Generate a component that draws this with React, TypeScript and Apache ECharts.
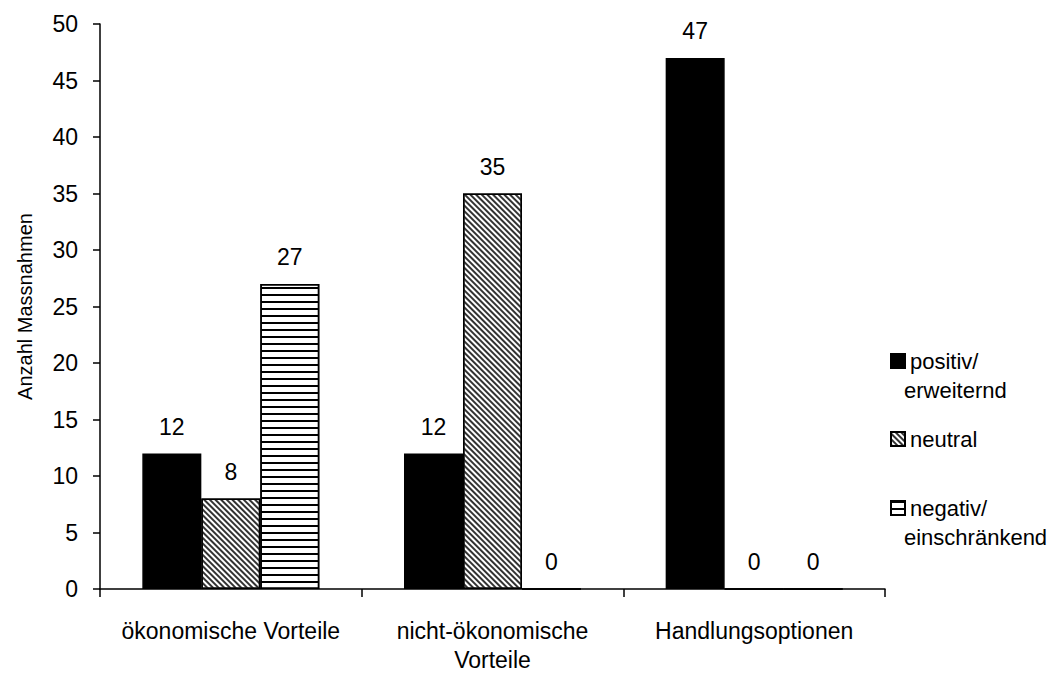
import React, { useEffect, useRef } from "react";
import * as echarts from "echarts";

const categories = ["ökonomische Vorteile", "nicht-ökonomische\nVorteile", "Handlungsoptionen"];
const seriesNames = ["positiv/\nerweiternd", "neutral", "negativ/\neinschränkend"];
const positivValues = [12, 12, 47];
const neutralValues = [8, 35, 0];
const negativValues = [27, 0, 0];
const yTicks = { min: 0, max: 50, interval: 5 };

const FONT = "'Liberation Sans', Arial, sans-serif";

export default function App() {
  const ref = useRef<HTMLDivElement>(null);
  useEffect(() => {
    if (!ref.current) return;
    const chart = echarts.init(ref.current, undefined, { renderer: "svg" });
    const labelCfg = {
      show: true,
      position: "top",
      distance: 15,
      fontSize: 23,
      fontFamily: FONT,
      color: "#000",
    };
    const baseItem = { borderColor: "#000", borderWidth: 1.5 };
    const legendBase = {
      orient: "vertical",
      left: 885,
      itemWidth: 14,
      itemHeight: 14,
      icon: "rect",
      formatter: (name: string) => name.split("\n")[0],
      textStyle: { fontSize: 22, fontFamily: FONT, color: "#000", lineHeight: 26 },
    };
    const secondLine = (text: string, y: number) => ({
      type: "text",
      x: 904,
      y,
      style: {
        text,
        fontSize: 22,
        fontFamily: FONT,
        fill: "#000",
        textAlign: "left",
        textVerticalAlign: "middle",
      },
    });
    chart.setOption({
      animation: false,
      backgroundColor: "#fff",
      textStyle: { fontFamily: FONT, color: "#000" },
      grid: { left: 100, right: 169, top: 24, bottom: 83, containLabel: false },
      legend: [
        { ...legendBase, data: [seriesNames[0]], top: 343 },
        { ...legendBase, data: [seriesNames[1]], top: 421 },
        { ...legendBase, data: [seriesNames[2]], top: 490 },
      ],
      graphic: [
        secondLine(seriesNames[0].split("\n")[1], 390),
        secondLine(seriesNames[2].split("\n")[1], 537),
      ],
      xAxis: {
        type: "category",
        data: categories,
        axisLine: { lineStyle: { color: "#000", width: 1.5 } },
        axisTick: { show: true, length: 8, interval: 0, lineStyle: { color: "#000", width: 1.5 } },
        axisLabel: { interval: 0, margin: 27, fontSize: 23, lineHeight: 29, color: "#000", fontFamily: FONT },
        splitLine: { show: false },
      },
      yAxis: {
        type: "value",
        min: yTicks.min,
        max: yTicks.max,
        interval: yTicks.interval,
        name: "Anzahl Massnahmen",
        nameLocation: "middle",
        nameGap: 65,
        nameTextStyle: { fontSize: 20, color: "#000", fontFamily: FONT },
        axisLine: { show: true, lineStyle: { color: "#000", width: 1.5 } },
        axisTick: { show: true, length: 7, lineStyle: { color: "#000", width: 1.5 } },
        axisLabel: { margin: 22, fontSize: 23, color: "#000", fontFamily: FONT },
        splitLine: { show: false },
      },
      series: [
        {
          name: seriesNames[0],
          type: "bar",
          data: positivValues,
          barWidth: 59,
          barGap: "0%",
          itemStyle: { ...baseItem, color: "#000" },
          label: labelCfg,
        },
        {
          name: seriesNames[1],
          type: "bar",
          data: neutralValues,
          barWidth: 59,
          barGap: "0%",
          itemStyle: {
            ...baseItem,
            color: "#fff",
            decal: {
              symbol: "rect",
              symbolSize: 1,
              color: "#333",
              backgroundColor: "#fff",
              dashArrayX: [1, 0],
              dashArrayY: [1.2, 1.8],
              rotation: Math.PI / 4,
            },
          },
          label: labelCfg,
        },
        {
          name: seriesNames[2],
          type: "bar",
          data: negativValues,
          barWidth: 59,
          barGap: "0%",
          itemStyle: {
            ...baseItem,
            color: "#fff",
            decal: {
              symbol: "rect",
              symbolSize: 1,
              color: "#000",
              backgroundColor: "#fff",
              dashArrayX: [1, 0],
              dashArrayY: [2, 5],
              rotation: 0,
            },
          },
          label: labelCfg,
        },
      ],
    });
    return () => chart.dispose();
  }, []);
  return (
    <div
      ref={ref}
      style={{ position: "fixed", left: 0, top: 0, width: 1054, height: 674, background: "#fff" }}
    />
  );
}
